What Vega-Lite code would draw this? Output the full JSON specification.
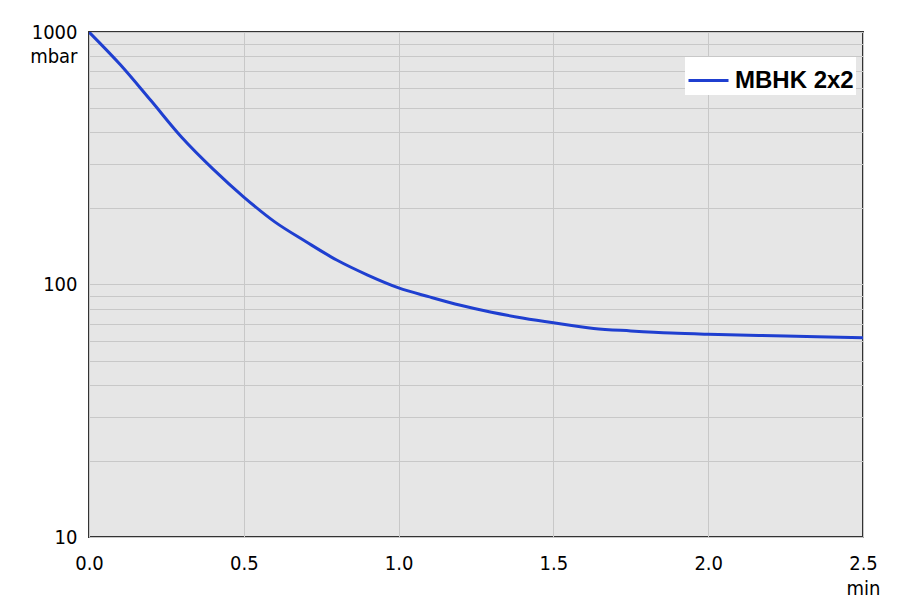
{
  "$schema": "https://vega.github.io/schema/vega-lite/v6.json",
  "autosize": "none",
  "width": 774,
  "height": 505,
  "padding": {"left": 89, "top": 32, "right": 37, "bottom": 65},
  "background": "white",
  "config": {
    "view": {"fill": "#e6e6e6", "stroke": "#333333", "strokeWidth": 2},
    "font": "DejaVu Sans Condensed"
  },
  "data": {
    "values": [
      {"t": 0, "p": 1000, "s": "MBHK 2x2"},
      {"t": 0.1, "p": 745, "s": "MBHK 2x2"},
      {"t": 0.2, "p": 535, "s": "MBHK 2x2"},
      {"t": 0.3, "p": 382, "s": "MBHK 2x2"},
      {"t": 0.4, "p": 287, "s": "MBHK 2x2"},
      {"t": 0.5, "p": 222, "s": "MBHK 2x2"},
      {"t": 0.6, "p": 177, "s": "MBHK 2x2"},
      {"t": 0.7, "p": 148, "s": "MBHK 2x2"},
      {"t": 0.8, "p": 125, "s": "MBHK 2x2"},
      {"t": 0.9, "p": 109, "s": "MBHK 2x2"},
      {"t": 1.0, "p": 97, "s": "MBHK 2x2"},
      {"t": 1.1, "p": 89.3, "s": "MBHK 2x2"},
      {"t": 1.2, "p": 82.7, "s": "MBHK 2x2"},
      {"t": 1.3, "p": 77.6, "s": "MBHK 2x2"},
      {"t": 1.4, "p": 73.7, "s": "MBHK 2x2"},
      {"t": 1.5, "p": 70.5, "s": "MBHK 2x2"},
      {"t": 1.63, "p": 67, "s": "MBHK 2x2"},
      {"t": 1.75, "p": 65.5, "s": "MBHK 2x2"},
      {"t": 1.88, "p": 64.2, "s": "MBHK 2x2"},
      {"t": 2.0, "p": 63.5, "s": "MBHK 2x2"},
      {"t": 2.25, "p": 62.5, "s": "MBHK 2x2"},
      {"t": 2.5, "p": 61.5, "s": "MBHK 2x2"}
    ]
  },
  "mark": {"type": "line", "strokeWidth": 3, "clip": true, "interpolate": "catmull-rom"},
  "encoding": {
    "x": {
      "field": "t",
      "type": "quantitative",
      "scale": {"domain": [0, 2.5], "nice": false, "zero": false},
      "axis": {
        "values": [0, 0.5, 1, 1.5, 2, 2.5],
        "format": ".1f",
        "grid": true,
        "gridColor": "#c8c8c8",
        "gridWidth": 1,
        "domain": false,
        "ticks": false,
        "labelFontSize": 20,
        "labelColor": "#000000",
        "labelPadding": 16,
        "labelFlush": false,
        "title": "min",
        "titleFontSize": 20,
        "titleFontWeight": "normal",
        "titleColor": "#000000",
        "titleX": 774,
        "titleY": 51,
        "titleAlign": "center",
        "titleBaseline": "middle"
      }
    },
    "y": {
      "field": "p",
      "type": "quantitative",
      "scale": {"type": "log", "domain": [10, 1000], "nice": false},
      "axis": {
        "values": [10, 20, 30, 40, 50, 60, 70, 80, 90, 100, 200, 300, 400, 500, 600, 700, 800, 900, 1000],
        "labelExpr": "indexof([10, 100, 1000], datum.value) >= 0 ? format(datum.value, 'd') : ''",
        "grid": true,
        "gridColor": "#c8c8c8",
        "gridWidth": 1,
        "domain": false,
        "ticks": false,
        "labelFontSize": 20,
        "labelColor": "#000000",
        "labelPadding": 12,
        "labelFlush": false,
        "labelOverlap": false,
        "title": "mbar",
        "titleFontSize": 20,
        "titleFontWeight": "normal",
        "titleColor": "#000000",
        "titleAngle": 0,
        "titleX": -12,
        "titleY": 24,
        "titleAlign": "right",
        "titleBaseline": "middle"
      }
    },
    "color": {
      "field": "s",
      "type": "nominal",
      "scale": {"range": ["#1f3fd0"]},
      "legend": {
        "title": null,
        "orient": "none",
        "legendX": 596,
        "legendY": 25,
        "padding": 2,
        "fillColor": "white",
        "symbolType": "stroke",
        "symbolSize": 1600,
        "symbolStrokeWidth": 3,
        "labelFont": "Liberation Sans",
        "labelFontWeight": "bold",
        "labelFontSize": 24,
        "labelColor": "#000000",
        "labelOffset": 5
      }
    }
  }
}
